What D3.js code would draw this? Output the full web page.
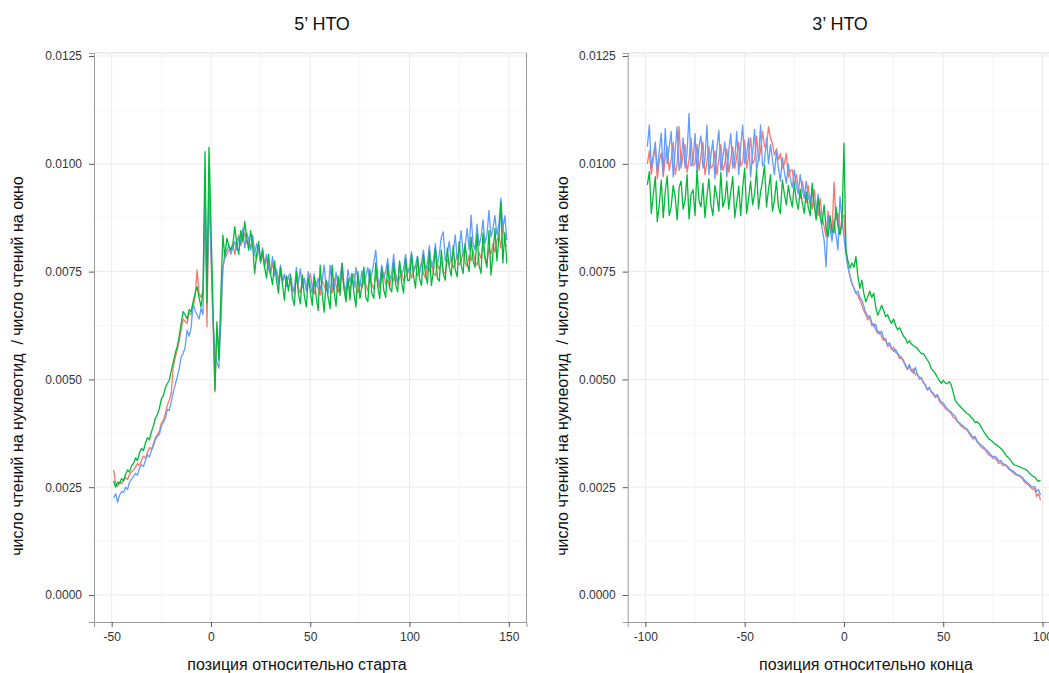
<!DOCTYPE html>
<html><head><meta charset="utf-8">
<script src="https://cdn.jsdelivr.net/npm/d3@7"></script>
<style>
body{margin:0;background:#fff;overflow:hidden;}
svg{display:block;font-family:"Liberation Sans",Arial,Helvetica,sans-serif;}
</style></head><body>
<svg id="chart" width="1049" height="673"></svg>
<script>
// values are in units of 1e-5 (reads per nucleotide / reads per window)
const SCALE = 1e-5;
const yTicks = [0, 0.0025, 0.005, 0.0075, 0.01, 0.0125];
const yMinor = [0.00125, 0.00375, 0.00625, 0.00875, 0.01125];
const xTicks5 = [-50, 0, 50, 100, 150];
const xMinor5 = [-25, 25, 75, 125];
const xTicks3 = [-100, -50, 0, 50, 100];
const xMinor3 = [-75, -25, 25, 75];
const titles = ["5’ НТО", "3’ НТО"];
const xTitles = ["позиция относительно старта", "позиция относительно конца"];
const yTitle = "число чтений на нуклеотид\u00A0 / число чтений на окно";
const start5 = -49, start3 = -99;

// 5' UTR panel, positions -49..149
const utr5_red = [
290,258,252,262,258,266,272,268,280,285,
290,296,305,300,312,322,318,330,342,338,
350,365,372,380,398,405,420,440,452,468,
530,550,568,590,615,640,635,630,655,650,
670,690,754,700,690,705,
920,622,930,800,640,471,
620,560,640,760,780,790,800,
800,815,790,820,835,810,825,840,815,820,805,830,790,780,805,770,790,760,780,755,745,770,740,750,735,745,725,740,730,735,
730,705,715,740,712,700,728,735,708,722,745,715,698,725,710,695,730,718,705,728,
712,700,735,718,702,725,740,712,695,722,708,730,745,715,700,728,712,735,720,705,
738,722,710,742,725,712,735,748,720,730,715,740,728,745,722,735,750,728,738,745,
760,735,748,765,740,752,770,745,735,762,750,775,748,740,768,755,772,750,745,778,
765,782,758,770,790,765,775,795,770,762,788,775,800,772,765,795,780,810,785,770,
805,790,815,795,820,840,805,860,815,808];
const utr5_blue = [
225,235,215,232,240,238,250,245,262,268,
275,282,278,295,302,298,312,325,320,335,
345,360,368,372,392,400,410,430,428,448,
470,488,505,525,553,560,575,614,600,620,
676,660,650,640,665,650,
950,694,960,800,640,560,
540,526,640,760,790,800,810,
790,805,820,800,830,815,850,805,840,825,800,835,790,815,800,770,805,765,790,760,745,785,740,755,720,765,730,745,715,740,
745,715,700,760,722,757,712,735,705,750,720,700,745,715,735,708,728,765,712,700,
765,720,705,748,715,735,770,720,705,755,725,745,712,760,730,715,752,720,740,760,
725,745,770,800,735,720,765,735,750,780,730,745,790,740,725,770,745,755,790,748,
760,796,750,765,785,745,770,800,755,770,810,760,775,815,765,790,830,842,775,790,
820,775,795,835,780,800,845,790,810,850,800,881,815,800,860,810,830,870,815,835,
892,830,850,880,835,860,920,850,880,823];
const utr5_green = [
265,250,262,258,270,265,280,290,285,300,
305,318,312,330,340,335,352,365,360,378,
392,410,418,432,455,462,480,490,498,520,
540,560,576,600,630,657,650,640,662,657,
680,700,715,690,668,705,
1028,677,1038,860,670,475,
634,545,700,835,785,827,810,
800,812,854,815,790,845,820,866,830,800,845,810,746,790,820,775,800,760,735,790,745,720,775,730,700,760,720,684,740,705,
740,690,672,750,700,675,742,695,668,735,705,672,738,690,660,765,700,656,730,690,
664,765,705,670,740,695,769,710,680,735,684,745,700,668,750,688,715,761,690,680,
755,700,688,770,715,688,760,708,690,765,712,703,770,720,703,775,725,700,780,730,
730,790,740,712,785,735,718,790,745,722,798,718,750,804,735,728,800,745,730,805,
760,740,810,755,738,820,765,746,815,770,750,830,775,760,838,765,746,840,780,760,
845,742,790,850,775,830,912,770,840,769];

// 3' UTR panel, positions -99..99
const utr3_red = [
1000,1030,975,1010,1040,965,1005,1025,970,1015,
1040,985,1010,1050,975,1000,1086,990,1020,1045,
980,1010,1060,995,1000,1045,985,1020,1050,975,
1005,1040,990,995,1030,975,1010,1045,985,1000,
1035,980,1010,1040,990,1015,1050,995,1005,1055,
990,1020,1060,1000,1010,1065,1005,1030,1075,1040,
1040,1086,1060,1047,1020,1035,1010,1024,990,1000,
1024,970,985,986,950,975,945,920,960,935,
910,950,915,895,940,900,880,920,875,855,
830,890,860,835,958,870,885,840,875,
881,800,761,742,723,712,700,695,684,672,
660,650,638,645,625,630,615,607,612,598,
590,595,576,580,570,575,562,560,548,552,
540,535,522,530,518,525,510,514,500,505,
492,488,475,480,470,465,458,462,450,444,
440,432,430,425,421,412,410,402,398,392,
388,385,383,375,368,362,365,355,350,344,
340,338,330,325,322,317,318,312,305,308,
300,302,298,292,288,285,280,278,276,274,
268,262,258,255,250,245,247,228,235,220];
const utr3_blue = [
1040,1090,990,1020,1050,982,1030,1071,975,1082,
1000,1040,1075,970,1030,1086,985,1010,1060,990,
1025,1117,995,1005,1070,980,1040,1065,990,1010,
1090,975,1020,1055,965,1035,1078,985,1015,1050,
970,1030,1070,990,1010,1075,975,1040,1090,1000,
1020,1060,970,1025,1080,985,1010,1090,995,1005,
1060,1000,1045,1009,975,1030,990,960,1015,980,
955,1000,966,945,986,950,930,975,940,920,
960,925,905,945,900,885,930,880,850,823,
761,880,850,820,870,835,800,924,870,
830,790,761,740,723,712,700,705,690,684,
670,655,645,648,632,622,628,610,605,612,
595,590,580,585,572,565,570,560,555,548,
545,530,525,535,520,515,528,510,505,500,
495,485,478,482,472,468,460,465,455,448,
445,438,432,428,425,418,415,405,400,396,
392,388,385,378,372,365,368,358,352,348,
345,340,335,330,325,320,322,318,310,312,
305,303,300,295,290,288,284,280,278,276,
272,266,262,258,253,250,252,240,245,232];
const utr3_green = [
951,982,885,930,970,866,905,962,875,935,
972,880,900,950,925,870,945,960,895,915,
975,872,930,940,880,985,915,900,955,875,
925,965,905,880,950,925,890,980,900,915,
960,895,935,970,875,910,948,880,945,990,
885,920,960,905,930,985,895,935,960,997,
900,940,975,890,916,960,900,885,962,930,
905,950,920,900,955,915,895,940,910,885,
935,900,880,955,905,870,920,880,860,905,
850,831,880,845,840,900,855,835,860,
1048,800,775,758,770,760,785,740,711,730,
700,680,692,705,690,700,668,649,660,672,
660,645,650,638,630,640,625,615,620,610,
600,595,584,590,582,578,575,572,565,560,
560,553,545,538,525,520,514,505,498,491,
498,492,490,495,488,470,452,445,440,435,
430,425,421,418,412,408,400,402,398,390,
382,375,368,362,359,355,350,348,344,340,
335,328,322,318,312,305,301,300,298,296,
294,292,290,285,280,276,274,268,263,267];

const seriesColors = ["#F8766D", "#619CFF", "#00BA38"];

const svg = d3.select("#chart");
const panelTop = 53, panelBottom = 622;
const y = d3.scaleLinear().domain([-0.000626, 0.01257]).range([panelBottom, panelTop]);

const panels = [
  {title: titles[0], xlab: xTitles[0], start: start5, series: [utr5_red, utr5_blue, utr5_green],
   ticks: xTicks5, minor: xMinor5, left: 94, right: 526.5, titleX: 322, xlabX: 297, ylabX: 23},
  {title: titles[1], xlab: xTitles[1], start: start3, series: [utr3_red, utr3_blue, utr3_green],
   ticks: xTicks3, minor: xMinor3, left: 627.7, right: 1060.2, titleX: 840, xlabX: 866, ylabX: 568}
];

panels.forEach(p => {
  const n = p.series[0].length;
  const lo = p.start, hi = p.start + n - 1;
  const pad = (hi - lo) * 0.05;
  const x = d3.scaleLinear().domain([lo - pad, hi + pad]).range([p.left, p.right]);
  const g = svg.append("g");

  // grid
  g.selectAll(".ymin").data(yMinor).join("line")
    .attr("x1", p.left).attr("x2", p.right).attr("y1", d => y(d)).attr("y2", d => y(d))
    .attr("stroke", "#f6f6f6").attr("stroke-width", 1);
  g.selectAll(".xmin").data(p.minor).join("line")
    .attr("y1", panelTop).attr("y2", panelBottom).attr("x1", d => x(d)).attr("x2", d => x(d))
    .attr("stroke", "#f6f6f6").attr("stroke-width", 1);
  g.selectAll(".ymaj").data(yTicks).join("line")
    .attr("x1", p.left).attr("x2", p.right).attr("y1", d => y(d)).attr("y2", d => y(d))
    .attr("stroke", "#ebebeb").attr("stroke-width", 1);
  g.selectAll(".xmaj").data(p.ticks).join("line")
    .attr("y1", panelTop).attr("y2", panelBottom).attr("x1", d => x(d)).attr("x2", d => x(d))
    .attr("stroke", "#ebebeb").attr("stroke-width", 1);

  // lines
  const line = d3.line().x((d, i) => x(p.start + i)).y(d => y(d * SCALE));
  p.series.forEach((s, k) => {
    g.append("path").datum(s).attr("d", line)
      .attr("fill", "none").attr("stroke", seriesColors[k])
      .attr("stroke-width", 1.3).attr("stroke-linejoin", "round");
  });

  // border
  g.append("line").attr("x1", p.left).attr("x2", p.right).attr("y1", panelTop).attr("y2", panelTop)
    .attr("stroke", "#d9d9d9");
  g.append("line").attr("x1", p.right).attr("x2", p.right).attr("y1", panelTop).attr("y2", panelBottom)
    .attr("stroke", "#9a9a9a");

  // axes
  const xa = g.append("g").attr("transform", `translate(0,${panelBottom})`)
    .call(d3.axisBottom(x).tickValues(p.ticks).tickSize(5).tickPadding(5).tickFormat(d => String(d)));
  const ya = g.append("g").attr("transform", `translate(${p.left},0)`)
    .call(d3.axisLeft(y).tickValues(yTicks).tickSize(5).tickPadding(7).tickFormat(d3.format(".4f")));
  [xa, ya].forEach(a => {
    a.select(".domain").attr("stroke", "#9a9a9a");
    a.selectAll(".tick line").attr("stroke", "#555");
    a.selectAll(".tick text").attr("fill", "#333").style("font-size", "12px")
      .style("font-family", '"Liberation Sans",Arial,sans-serif');
  });

  // titles
  svg.append("text").attr("x", p.titleX).attr("y", 30).attr("text-anchor", "middle")
    .style("font-size", "18px").attr("fill", "#111").text(p.title);
  svg.append("text").attr("x", p.xlabX).attr("y", 670).attr("text-anchor", "middle")
    .style("font-size", "16px").attr("fill", "#111").text(p.xlab);
  svg.append("text").attr("transform", `translate(${p.ylabX},366) rotate(-90)`)
    .attr("text-anchor", "middle").style("font-size", "16px").attr("fill", "#111").text(yTitle);
});
</script>
</body></html>
